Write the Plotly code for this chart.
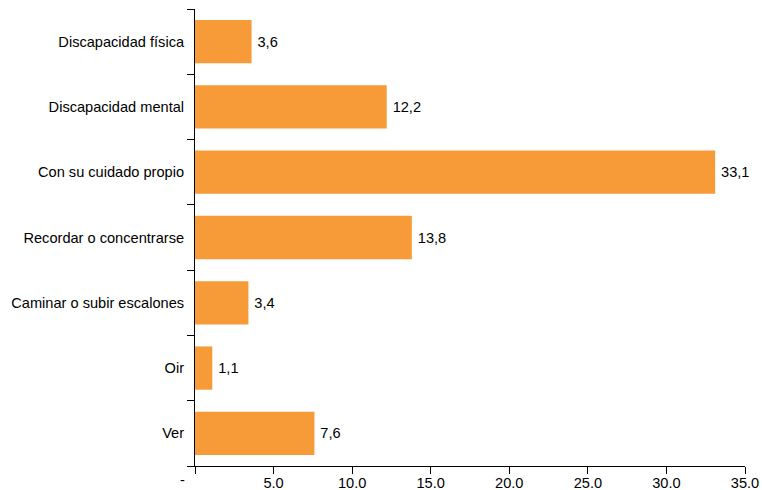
import plotly.graph_objects as go

categories = ["Ver", "Oir", "Caminar o subir escalones", "Recordar o concentrarse",
              "Con su cuidado propio", "Discapacidad mental", "Discapacidad física"]
values = [7.6, 1.1, 3.4, 13.8, 33.1, 12.2, 3.6]
tick_vals = [0, 5, 10, 15, 20, 25, 30, 35]
tick_text = ["", "5.0", "10.0", "15.0", "20.0", "25.0", "30.0", "35.0"]

labels = ["\u2009" + f"{v:.1f}".replace(".", ",") for v in values]
FONT = "Liberation Sans, Arial"
FS = 14.6

fig = go.Figure(go.Bar(
    x=values, y=categories, orientation="h",
    marker=dict(color="#F79B38", line=dict(width=0)),
    text=labels, textposition="outside", cliponaxis=False,
    textfont=dict(family=FONT, size=FS, color="#000000"),
))

fig.update_layout(
    width=762, height=490,
    margin=dict(l=195, r=17, t=9, b=24, autoexpand=False),
    paper_bgcolor="white", plot_bgcolor="white",
    bargap=0.337,
    showlegend=False,
    font=dict(family=FONT, size=FS, color="#000000"),
    xaxis=dict(range=[0, 35], tickvals=tick_vals, ticktext=tick_text,
               showgrid=False, zeroline=False, showline=True, linecolor="#000000",
               linewidth=1, ticks="outside", ticklen=7, tickcolor="#000000",
               ticklabelstandoff=-4, tickfont=dict(size=FS), automargin=False),
    yaxis=dict(showgrid=False, zeroline=False, showline=True, linecolor="#000000",
               linewidth=1, ticks="outside", ticklen=7, tickcolor="#000000",
               tickson="boundaries", ticklabelstandoff=7, tickfont=dict(size=FS),
               automargin=False),
)

fig.add_annotation(x=0, y=0, xref="x", yref="paper", text="-", showarrow=False,
                   xshift=-13, yshift=-14, yanchor="middle",
                   font=dict(family=FONT, size=FS, color="#000000"))

fig.write_html("out.html", config={"displayModeBar": False},
               post_script="document.body.style.margin='0';")
